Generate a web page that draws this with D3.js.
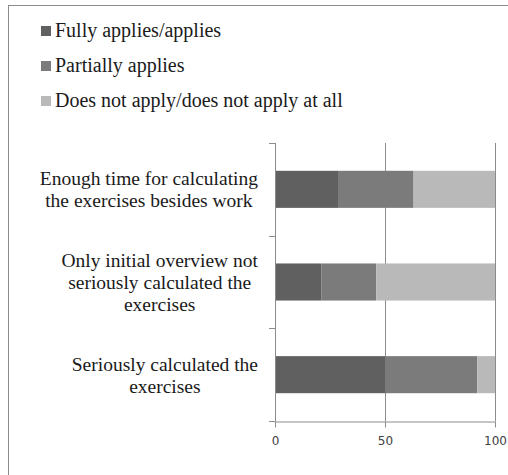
<!DOCTYPE html>
<html>
<head>
<meta charset="utf-8">
<script src="https://cdn.jsdelivr.net/npm/d3@7"></script>
<style>
  html, body { margin: 0; padding: 0; background: #fff; }
  svg { display: block; }
  .serif { font-family: "Liberation Serif", "Times New Roman", Times, "DejaVu Serif", serif; }
</style>
</head>
<body>
<svg id="chart" width="508" height="475"></svg>
<script>
// ---- data ----
const categories = [
  "Enough time for calculating\nthe exercises besides work",
  "Only initial overview not\nseriously calculated the\nexercises",
  "Seriously calculated the\nexercises"
];
const seriesNames = ["Fully applies/applies", "Partially applies", "Does not apply/does not apply at all"];
const fullyApplies = [29, 21, 50];
const partiallyApplies = [34, 25, 42];
const doesNotApply = [37, 54, 8];
const xTicks = [0, 50, 100];
const colors = ["#606060", "#7b7b7b", "#b9b9b9"];

const seriesValues = [fullyApplies, partiallyApplies, doesNotApply];
const rows = categories.map((c, i) => {
  const r = { cat: c };
  seriesNames.forEach((s, j) => r[s] = seriesValues[j][i]);
  return r;
});

const svg = d3.select("#chart");

// outer border
svg.append("rect")
  .attr("x", 8.5).attr("y", 5.5).attr("width", 600).attr("height", 600)
  .attr("fill", "none").attr("stroke", "#8c8c8c").attr("stroke-width", 1);

// legend
const legend = svg.append("g");
seriesNames.forEach((s, i) => {
  const g = legend.append("g").attr("transform", `translate(41,${26 + i * 35})`);
  g.append("rect").attr("width", 10).attr("height", 10).attr("fill", colors[i]);
  g.append("text").attr("class", "serif").attr("x", 14).attr("y", 11)
    .attr("font-size", 20).attr("fill", "#1a1a1a").text(s);
});

// scales
const x = d3.scaleLinear().domain([0, 100]).range([275, 495]);
const y = d3.scaleBand().domain(categories).range([143, 421]).paddingInner(0).paddingOuter(0);
const barH = y.bandwidth() * 0.4;

// gridlines
svg.append("g").selectAll("line").data(xTicks.filter(d => d > 0)).join("line")
  .attr("x1", d => Math.round(x(d)) + 0.5).attr("x2", d => Math.round(x(d)) + 0.5)
  .attr("y1", 143).attr("y2", 421)
  .attr("stroke", "#8c8c8c");

// bars
const stack = d3.stack().keys(seriesNames)(rows);
svg.append("g").selectAll("g").data(stack).join("g")
  .attr("fill", (d, i) => colors[i])
  .selectAll("rect").data(d => d).join("rect")
  .attr("x", d => x(d[0]))
  .attr("width", d => x(d[1]) - x(d[0]))
  .attr("y", d => y(d.data.cat) + (y.bandwidth() - barH) / 2)
  .attr("height", barH);

// y axis (category boundaries)
const yAxis = svg.append("g").attr("stroke", "#8c8c8c");
yAxis.append("line").attr("x1", 275.5).attr("x2", 275.5).attr("y1", 143).attr("y2", 421);
const bounds = categories.map(c => y(c)).concat([y(categories[categories.length - 1]) + y.step()]);
yAxis.selectAll("line.tick").data(bounds).join("line").attr("class", "tick")
  .attr("x1", 269).attr("x2", 275.5)
  .attr("y1", d => Math.round(d) + 0.5).attr("y2", d => Math.round(d) + 0.5);

// x axis
const xAxisG = svg.append("g").attr("transform", "translate(0,421.5)")
  .call(d3.axisBottom(x).tickValues(xTicks).tickSize(6).tickSizeOuter(0));
xAxisG.select(".domain").attr("stroke", "#8c8c8c");
xAxisG.selectAll(".tick line").attr("stroke", "#8c8c8c");
xAxisG.selectAll(".tick text")
  .attr("font-family", "'DejaVu Sans', Verdana, sans-serif")
  .attr("font-size", 12).attr("fill", "#404040").attr("dy", "0.9em").attr("y", 13);

// category labels
const labelRight = 258;
const lineH = 22;
categories.forEach(c => {
  const lines = c.split("\n");
  const cy = y(c) + y.bandwidth() / 2;
  const t = svg.append("text").attr("class", "serif")
    .attr("font-size", 19.5).attr("fill", "#1a1a1a").attr("text-anchor", "middle");
  lines.forEach((l, i) => {
    t.append("tspan").attr("y", cy + (i - (lines.length - 1) / 2) * lineH + 7).text(l);
  });
  let maxW = 0;
  t.selectAll("tspan").each(function() { maxW = Math.max(maxW, this.getComputedTextLength()); });
  t.selectAll("tspan").attr("x", labelRight - maxW / 2);
});
</script>
</body>
</html>
